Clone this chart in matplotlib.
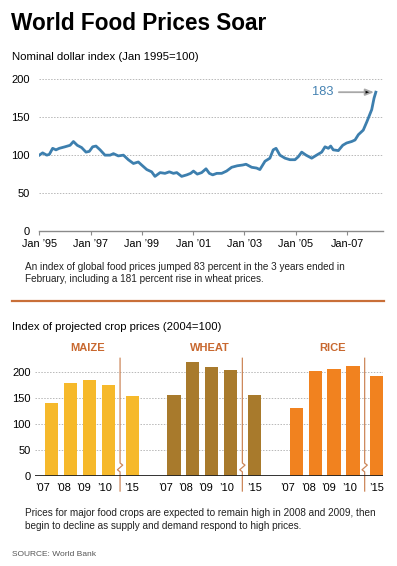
import numpy as np
import matplotlib.pyplot as plt

# nominal dollar index (decimal years)
dates = [1995.00, 1995.13, 1995.29, 1995.39, 1995.52, 1995.65, 1995.78, 1996.00,
         1996.20, 1996.33, 1996.48, 1996.65, 1996.82, 1996.95, 1997.08, 1997.21,
         1997.37, 1997.56, 1997.76, 1997.89, 1998.08, 1998.28, 1998.47, 1998.67,
         1998.86, 1998.99, 1999.19, 1999.38, 1999.51, 1999.71, 1999.90, 2000.07,
         2000.23, 2000.36, 2000.55, 2000.75, 2000.90, 2001.01, 2001.16, 2001.33,
         2001.50, 2001.63, 2001.76, 2001.92, 2002.11, 2002.30, 2002.50, 2002.72,
         2002.93, 2003.06, 2003.28, 2003.47, 2003.60, 2003.80, 2003.99, 2004.12,
         2004.23, 2004.38, 2004.58, 2004.77, 2004.97, 2005.10, 2005.23, 2005.40,
         2005.62, 2005.81, 2006.01, 2006.14, 2006.27, 2006.36, 2006.46, 2006.66,
         2006.83, 2006.98, 2007.18, 2007.31, 2007.44, 2007.63, 2007.77, 2007.96,
         2008.05, 2008.12]
index = [100, 103, 100, 101, 109, 107, 109, 111,
         113, 118, 113, 110, 104, 105, 111, 112,
         107, 100, 100, 102, 99, 100, 94, 89,
         91, 87, 81, 78, 72, 77, 76, 78,
         76, 77, 72, 74, 76, 79, 75, 77,
         82, 76, 74, 76, 76, 79, 84, 86,
         87, 88, 84, 83, 81, 92, 96, 107,
         109, 100, 96, 94, 94, 98, 104, 100,
         96, 100, 104, 111, 109, 112, 107, 106,
         113, 116, 118, 120, 127, 133, 144, 160,
         175, 183]

year_ticks = [1995, 1997, 1999, 2001, 2003, 2005, 2007]
year_labels = ['Jan \u201995', 'Jan \u201997', 'Jan \u201999', 'Jan \u201901',
               'Jan \u201903', 'Jan \u201905', 'Jan-07']
line_yticks = [0, 50, 100, 150, 200]

# projected crop price index
crops = ['MAIZE', 'WHEAT', 'RICE']
crop_years = ['\u201907', '\u201908', '\u201909', '\u201910', '\u201915']
maize = [141, 179, 186, 176, 155]
wheat = [157, 219, 211, 204, 157]
rice = [132, 202, 207, 213, 192]
crop_colors = ['#f6b92b', '#a87a2c', '#f1821f']
bar_yticks = [0, 50, 100, 150, 200]

plt.rcParams['font.family'] = ['Liberation Sans', 'DejaVu Sans']

W, H = 397, 566
fig = plt.figure(figsize=(W / 100, H / 100), dpi=100)


def ftext(x, y, s, **kw):
    fig.text(x / W, 1 - y / H, s, **kw)


# headings and notes
ftext(11, 29.5, 'World Food Prices Soar', fontsize=16.3, fontweight='heavy', va='baseline')
ftext(12, 60, 'Nominal dollar index (Jan 1995=100)', fontsize=8.2, va='baseline')
ftext(25, 270, 'An index of global food prices jumped 83 percent in the 3 years ended in',
      fontsize=7.2, va='baseline', color='#222222')
ftext(25, 282.5, 'February, including a 181 percent rise in wheat prices.',
      fontsize=7.2, va='baseline', color='#222222')
fig.add_artist(plt.Line2D([12 / W, 384 / W], [1 - 300.5 / H, 1 - 300.5 / H],
                          color='#c96f38', lw=1.6))
ftext(12, 329.5, 'Index of projected crop prices (2004=100)', fontsize=8.1, va='baseline')
ftext(25, 516, 'Prices for major food crops are expected to remain high in 2008 and 2009, then',
      fontsize=7.2, va='baseline', color='#222222')
ftext(25, 529, 'begin to decline as supply and demand respond to high prices.',
      fontsize=7.2, va='baseline', color='#222222')
ftext(12, 556, 'SOURCE: World Bank', fontsize=6.0, va='baseline', color='#555555')

# line chart
ax1 = fig.add_axes([39.3 / W, 1 - 231 / H, (383 - 39.3) / W, (231 - 79.3) / H])
for v in line_yticks[1:]:
    ax1.axhline(v, color='#b8b8b8', lw=0.7, ls=(0, (1.5, 1.5)), zorder=1)
ax1.plot(dates, index, color='#3d7fae', lw=2.0, solid_joinstyle='round', zorder=3)
ax1.set_xlim(1995, 2008.4)
ax1.set_ylim(0, 200)
for side in ['top', 'left', 'right']:
    ax1.spines[side].set_visible(False)
ax1.spines['bottom'].set_color('#8a8a8a')
ax1.spines['bottom'].set_linewidth(1.0)
ax1.set_xticks(year_ticks, year_labels)
ax1.set_yticks(line_yticks)
ax1.tick_params(axis='x', length=3, color='#8a8a8a', labelsize=7.8, pad=3)
ax1.tick_params(axis='y', length=0, labelsize=8, pad=7)
ax1.set_facecolor('none')

ax1.annotate('', xy=(2008.05, index[-1]), xytext=(2006.68, index[-1]),
             arrowprops=dict(arrowstyle='-|>,head_length=0.5,head_width=0.2',
                             fc='black', ec='#a8a8a8', lw=1.3, shrinkA=0, shrinkB=0))
ax1.text(2006.46, index[-1], str(index[-1]), color='#4582b2', fontsize=9.3,
         ha='right', va='center')

# bar chart
ax2 = fig.add_axes([35 / W, 1 - 476 / H, 348 / W, (476 - 356.7) / H])
slot = np.array([0, 1, 2, 3, 4.27])
label_slot = np.array([-0.46, 0.64, 1.70, 2.81, 4.26])
group_step = 6.47
tick_pos = []
tick_lab = []
for g, (name, vals, col) in enumerate(zip(crops, [maize, wheat, rice], crop_colors)):
    x0 = g * group_step
    ax2.bar(x0 + slot, vals, width=0.7, color=col, zorder=2)
    ax2.text(x0 + 1.9, 247, name, color='#c8682f', fontsize=8, fontweight='bold',
             ha='center', va='center')
    s = x0 + 3.62
    ax2.plot([s, s, s + 0.14, s - 0.14, s, s], [227, 25, 21, 12, 8, -29],
             color='#cd875a', lw=0.9, clip_on=False, zorder=3)
    tick_pos.extend(x0 + label_slot)
    tick_lab.extend(crop_years)

for v in bar_yticks[1:]:
    ax2.axhline(v, color='#b8b8b8', lw=0.7, ls=(0, (1.5, 1.5)), zorder=1)
ax2.axhline(0, color='#222222', lw=1.3, zorder=4)
ax2.set_xlim(-0.88, 17.53)
ax2.set_ylim(0, 230)
for side in ['top', 'left', 'right', 'bottom']:
    ax2.spines[side].set_visible(False)
ax2.set_xticks(tick_pos, tick_lab)
ax2.set_yticks(bar_yticks)
ax2.tick_params(axis='x', length=0, labelsize=8, pad=5)
ax2.tick_params(axis='y', length=0, labelsize=8, pad=3)
ax2.set_facecolor('none')

fig.savefig('out.png', dpi=100)
